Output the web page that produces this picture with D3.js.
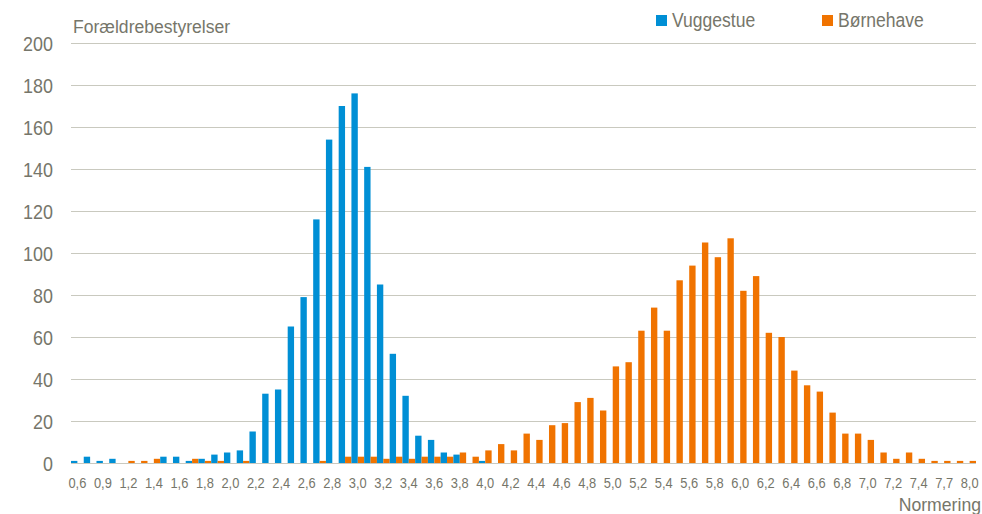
<!DOCTYPE html>
<html><head><meta charset="utf-8">
<script src="https://cdn.jsdelivr.net/npm/d3@7"></script>
<style>
body{margin:0;background:#fff}
text{font-family:"Liberation Sans",Arial,sans-serif;fill:#76766a}
</style>
</head><body>
<svg id="chart" width="982" height="514"></svg>
<script>
const categories = ["0,6","0,8","0,9","1,0","1,2","1,3","1,4","1,5","1,6","1,7","1,8","1,9","2,0","2,1","2,2","2,3","2,4","2,5","2,6","2,7","2,8","2,9","3,0","3,1","3,2","3,3","3,4","3,5","3,6","3,7","3,8","3,9","4,0","4,1","4,2","4,3","4,4","4,5","4,6","4,7","4,8","4,9","5,0","5,1","5,2","5,3","5,4","5,5","5,6","5,7","5,8","5,9","6,0","6,1","6,2","6,3","6,4","6,5","6,6","6,7","6,8","6,9","7,0","7,1","7,2","7,3","7,4","7,6","7,7","7,9","8,0"];
const vuggestue = [1,3,1,2,0,0,0,3,3,1,2,4,5,6,15,33,35,65,79,116,154,170,176,141,85,52,32,13,11,5,4,0,1,
  0,0,0,0,0,0,0,0,0,0,0,0,0,0,0,0,0,0,0,0,0,0,0,0,0,0,0,0,0,0,0,0,0,0,0,0,0,0];
const boernehave = [0,0,0,0,1,1,2,0,0,2,1,1,0,1,0,0,0,0,0,1,0,3,3,3,2,3,2,3,3,3,5,3,6,
  9,6,14,11,18,19,29,31,25,46,48,63,74,63,87,94,105,98,107,82,89,62,60,44,37,34,24,14,14,11,5,2,5,2,1,1,1,1];
const seriesNames = ["Vuggestue","Børnehave"];
const seriesColors = ["#008fd5","#f07300"];
const yTicks = [0,20,40,60,80,100,120,140,160,180,200];
const xTickLabels = ["0,6","0,9","1,2","1,4","1,6","1,8","2,0","2,2","2,4","2,6","2,8","3,0","3,2","3,4","3,6","3,8","4,0","4,2","4,4","4,6","4,8","5,0","5,2","5,4","5,6","5,8","6,0","6,2","6,4","6,6","6,8","7,0","7,2","7,4","7,7","8,0"];
const yTitle = "Forældrebestyrelser";
const xTitle = "Normering";

const svg = d3.select("#chart");
const mLeft = 71, mRight = 976, mTop = 43, mBottom = 463;

const x = d3.scaleBand().domain(categories).range([mLeft, mRight]).padding(0);
const xs = d3.scaleBand().domain([0,1]).range([0, x.bandwidth()]).padding(0);
const y = d3.scaleLinear().domain([0,200]).range([mBottom, mTop]);

// gridlines + y labels
const yAxis = svg.append("g").attr("transform", `translate(${mLeft},0)`)
  .call(d3.axisLeft(y).tickValues(yTicks).tickSize(-(mRight-mLeft)).tickPadding(0).tickFormat(d3.format("d")));
yAxis.select(".domain").remove();
yAxis.selectAll(".tick line").attr("stroke", "#c9c9bf").attr("stroke-width", 1.2);
yAxis.selectAll(".tick text")
  .attr("x", 0).attr("dy", null).attr("y", 0)
  .style("font-size", "19.5px").attr("text-anchor", "end").attr("fill", "#76766a")
  .attr("transform", "translate(-18,7) scale(0.92,1)");

// bars
const data = categories.map((c,i) => ({c, vals:[vuggestue[i], boernehave[i]]}));
const groups = svg.append("g").selectAll("g").data(data).join("g")
  .attr("transform", d => `translate(${x(d.c)},0)`);
groups.selectAll("rect").data(d => d.vals.map((v,k) => ({v,k}))).join("rect")
  .attr("x", d => xs(d.k))
  .attr("width", xs.bandwidth())
  .attr("y", d => y(d.v))
  .attr("height", d => y(0) - y(d.v))
  .attr("fill", d => seriesColors[d.k]);

// x axis labels
const xAxis = svg.append("g").attr("transform", `translate(0,${mBottom})`)
  .call(d3.axisBottom(x).tickValues(xTickLabels).tickSize(0).tickPadding(0));
xAxis.select(".domain").remove();
xAxis.selectAll(".tick text")
  .attr("y", 0).attr("dy", null)
  .style("font-size", "15px").attr("fill", "#76766a")
  .attr("transform", "translate(0,25) scale(0.86,1)");

// titles
svg.append("text").attr("transform", "translate(73,33) scale(0.95,1)")
  .style("font-size", "18.5px").text(yTitle);
svg.append("text").attr("transform", "translate(981,511) scale(0.98,1)")
  .attr("text-anchor", "end").style("font-size", "18px").text(xTitle);

// legend
const legX = [656, 822];
seriesNames.forEach((n,k) => {
  svg.append("rect").attr("x", legX[k]).attr("y", 15).attr("width", 11).attr("height", 11).attr("fill", seriesColors[k]);
  svg.append("text").attr("transform", `translate(${legX[k]+16},27) scale(0.9,1)`)
    .style("font-size", "19.5px").text(n);
});
</script>
</body></html>
